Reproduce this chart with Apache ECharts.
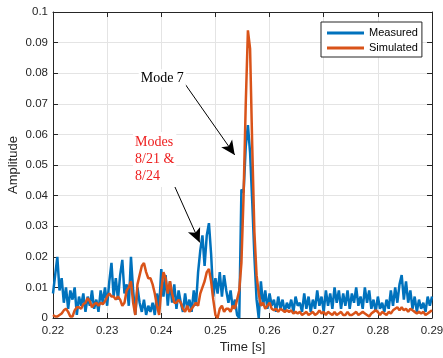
<!DOCTYPE html>
<html><head><meta charset="utf-8">
<script src="https://cdn.jsdelivr.net/npm/echarts@6/dist/echarts.min.js"></script>
<style>html,body{margin:0;padding:0;background:#fff}#c{width:443px;height:358px}</style>
</head><body><div id="c"></div>
<script>
// Time axis: uniform sampling from 0.22 s, step 0.0004 s
const tStart = 0.22, tStep = 0.0004;
// Amplitudes in thousandths (x 1e-3)
const measuredMilli = [
 8,14,20,9,13,5,10,3,9,6,
 10,1,7,4,8,2,7,4,9,3,
 6,2,9,5,10,4,12,18,7,13,
 6,14,19,8,11,4,20,9,1,10,
 5,2,6,1,4,2,5,1,8,3,
 16,7,14,4,12,5,11,3,9,5,
 2,8,3,6,2,9,4,15,22,27,
 17,27,31,21,7,13,8,15,7,14,
 9,5,9,3,6,1,0,42,41,56,
 63,54,38,20,6,0,12,4,9,3,
 8,4,6,2,7,3,6,2,5,3,
 6,2,7,4,5,2,8,3,7,2,
 6,3,9,4,7,2,9,4,8,3,
 10,5,9,3,8,4,9,3,8,5,
 10,4,7,3,10,5,9,3,6,2,
 7,3,5,2,6,3,9,4,10,5,
 11,14,6,12,5,9,3,7,2,6,
 3,5,2,7,4,7
];
const simulatedMilli = [
 1,0.5,0.5,1,1.5,2.5,3,2,0.5,0.5,
 2.5,3.5,3.5,3,4.5,5,6.5,5.5,3.5,4.5,
 5,4,5,4.5,5.5,7,8,7,7,6,
 7,6,4,5,9,10,12,5,1,11,
 14,17,18,15,13,13,11,8,4,1,
 9,15,13,8,12,8,5,5,6,5,
 3,2,4,2,3,4,5,4,8,10,
 12,15,16,12,6,1,0,3,4,2,
 3,3,2,4,3,6,9,18,40,70,
 94,88,56,28,14,8,4,5,3,4,
 5,3,2.5,3,2,3,2.5,2,2.5,2,
 2.5,1.5,2,1.5,2,1,1.5,2,1,1.5,
 2,1,1.5,2.5,1.5,2,1,2,1.5,1,
 2,1,1.5,2,1,1,2,1,1,1.5,
 2,1,1.5,2,1.5,1,0.5,1.5,2,2.5,
 2,1,2,1.5,1,2,1.5,2.5,3,3.5,
 2.5,3.5,2.5,3,2,3,2.5,2,1.5,2,
 1.5,2,1,1.5,2,2.5
];
const xTicks = [0.22,0.23,0.24,0.25,0.26,0.27,0.28,0.29];
const seriesNames = ['Measured','Simulated'];
// Annotations (data coordinates, y in thousandths)
const arrows = [
  {from:[0.2439,77.7], to:[0.25356,53.3]},
  {from:[0.24063,50.3], to:[0.2471,24.7]}
];
const mode7Label = {text:'Mode 7', at:[0.23583,78.7]};
const modesLabel = {lines:['Modes','8/21 &','8/24'], at:[0.23478,58.15]};

const toPairs = arr => arr.map((v,i)=>[tStart + i*tStep, v]);
const axisColor = '#262626';
const font = 'Liberation Sans, Arial, sans-serif';

const chart = echarts.init(document.getElementById('c'), null, {renderer:'canvas'});
const xBase = {type:'value', min:0.22, max:0.29, interval:0.01,
  axisLine:{show:true, onZero:false, lineStyle:{color:axisColor,width:1}},
  axisTick:{show:true, inside:true, length:5, lineStyle:{color:axisColor}}};
const yBase = {type:'value', min:0, max:100, interval:10,
  axisLine:{show:true, onZero:false, lineStyle:{color:axisColor,width:1}},
  axisTick:{show:true, inside:true, length:5, lineStyle:{color:axisColor}}};
chart.setOption({
  animation:false,
  backgroundColor:'#fff',
  grid:{left:53, right:11, top:12, bottom:40, containLabel:false, outerBoundsMode:'none'},
  legend:{
    data:seriesNames.map(n=>({name:n, icon:'rect'})),
    orient:'vertical', left:321, top:22,
    itemWidth:37, itemHeight:3, itemGap:1, itemTextGap:4,
    padding:[4,4,2,6],
    borderColor:axisColor, borderWidth:1, backgroundColor:'#fff',
    textStyle:{fontFamily:font, fontSize:11, color:'#000', lineHeight:14}
  },
  xAxis:[
    Object.assign({}, xBase, {position:'bottom',
      name:'Time [s]', nameLocation:'middle', nameGap:23, nameMoveOverlap:false,
      nameTextStyle:{fontFamily:font, fontSize:13, color:axisColor},
      axisLabel:{fontFamily:font, fontSize:11.5, color:axisColor, margin:7,
        formatter:v=>String(+v.toFixed(2))},
      splitLine:{show:true, lineStyle:{color:'#e4e4e4', width:1}}}),
    Object.assign({}, xBase, {position:'top', axisLabel:{show:false}, splitLine:{show:false}})
  ],
  yAxis:[
    Object.assign({}, yBase, {position:'left',
      name:'Amplitude', nameLocation:'middle', nameGap:33, nameMoveOverlap:false,
      nameTextStyle:{fontFamily:font, fontSize:13, color:axisColor},
      axisLabel:{fontFamily:font, fontSize:11.5, color:axisColor, margin:5,
        formatter:v=>v===0?'0':String(+(v/1000).toFixed(2))},
      splitLine:{show:true, lineStyle:{color:'#e4e4e4', width:1}}}),
    Object.assign({}, yBase, {position:'right', axisLabel:{show:false}, splitLine:{show:false}})
  ],
  series:[
    {name:seriesNames[0], type:'line', data:toPairs(measuredMilli), showSymbol:false,
     lineStyle:{color:'#0072BD', width:2.5}, itemStyle:{color:'#0072BD'}},
    {name:seriesNames[1], type:'line', data:toPairs(simulatedMilli), showSymbol:false,
     lineStyle:{color:'#D95319', width:2.5}, itemStyle:{color:'#D95319'},
     markLine:{silent:true, symbol:['none','arrow'], symbolSize:[10,14],
       label:{show:false}, lineStyle:{color:'#000', width:1, type:'solid'},
       data: arrows.map(a=>[{coord:a.from},{coord:a.to}])}}
  ]
});

const p1 = chart.convertToPixel({gridIndex:0}, mode7Label.at);
const p2 = chart.convertToPixel({gridIndex:0}, modesLabel.at);
chart.setOption({graphic:[
  {type:'text', left:p1[0], top:p1[1]-8, z:100,
   style:{text:mode7Label.text, font:'14px "Liberation Serif", serif', fill:'#000',
     backgroundColor:'#fff', padding:[2,2]}},
  {type:'text', left:p2[0], top:p2[1]-8, z:100,
   style:{text:modesLabel.lines.join('\n'), font:'14px "Liberation Serif", serif', fill:'#ee2020',
     lineHeight:17, backgroundColor:'#fff', padding:[2,2]}}
]});
</script></body></html>
